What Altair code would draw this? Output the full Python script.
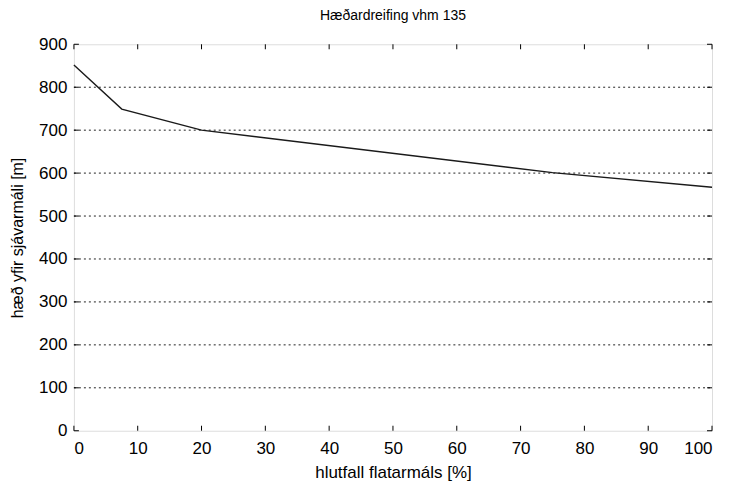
import altair as alt
import pandas as pd

# data
area_pct = [0, 7.5, 20, 75, 100]
height_m = [852, 749, 700, 601, 567]
x_ticks = [0, 10, 20, 30, 40, 50, 60, 70, 80, 90, 100]
y_ticks = [0, 100, 200, 300, 400, 500, 600, 700, 800, 900]
grid_vals = [100, 200, 300, 400, 500, 600, 700, 800]

W, H = 639, 387
FONT = "Liberation Sans"

df = pd.DataFrame({"x": area_pct, "y": height_m})
xt = pd.DataFrame({"x": x_ticks})
yt = pd.DataFrame({"y": y_ticks})
gv = pd.DataFrame({"y": grid_vals})

xscale = alt.Scale(domain=[0, 100], nice=False, zero=False)
yscale = alt.Scale(domain=[0, 900], nice=False, zero=False)

grid = alt.Chart(gv).mark_rule(color="#222222", strokeWidth=1, strokeDash=[2, 3]).encode(
    y=alt.Y("y:Q", scale=yscale),
    x=alt.value(0), x2=alt.value(W),
)

line = alt.Chart(df).mark_line(color="#1a1a1a", strokeWidth=1.4).encode(
    x=alt.X("x:Q", scale=xscale,
            axis=alt.Axis(values=x_ticks, title="hlutfall flatarmáls [%]", grid=False,
                          ticks=False, domain=False, labelFont=FONT, labelFontSize=17,
                          labelColor="black", labelPadding=10, titleFont=FONT,
                          titleFontSize=17, titleFontWeight="normal", titleColor="black",
                          titlePadding=8)),
    y=alt.Y("y:Q", scale=yscale,
            axis=alt.Axis(values=y_ticks, title="hæð yfir sjávarmáli [m]", grid=False,
                          ticks=False, domain=False, labelFont=FONT, labelFontSize=17,
                          labelColor="black", labelPadding=7, titleFont=FONT,
                          titleFontSize=16, titleFontWeight="normal", titleColor="black",
                          titlePadding=13)),
)

tick_style = dict(color="black", strokeWidth=1)
xt_bottom = alt.Chart(xt).mark_rule(**tick_style).encode(
    x=alt.X("x:Q", scale=xscale), y=alt.value(H), y2=alt.value(H - 5))
xt_top = alt.Chart(xt).mark_rule(**tick_style).encode(
    x=alt.X("x:Q", scale=xscale), y=alt.value(0), y2=alt.value(5))
yt_left = alt.Chart(yt).mark_rule(**tick_style).encode(
    y=alt.Y("y:Q", scale=yscale), x=alt.value(0), x2=alt.value(5))
yt_right = alt.Chart(yt).mark_rule(**tick_style).encode(
    y=alt.Y("y:Q", scale=yscale), x=alt.value(W), x2=alt.value(W - 5))

chart = alt.layer(grid, line, xt_bottom, xt_top, yt_left, yt_right).properties(
    width=W, height=H,
    title=alt.TitleParams("Hæðardreifing vhm 135", font=FONT, fontSize=14,
                          fontWeight="normal", color="black", offset=12),
    autosize=alt.AutoSizeParams(type="none"),
    padding={"left": 66, "top": 36, "right": 10, "bottom": 50},
).configure_view(stroke="black", strokeWidth=1).configure(background="white")

chart.save("out.html", embed_options={"renderer": "svg", "actions": False})
